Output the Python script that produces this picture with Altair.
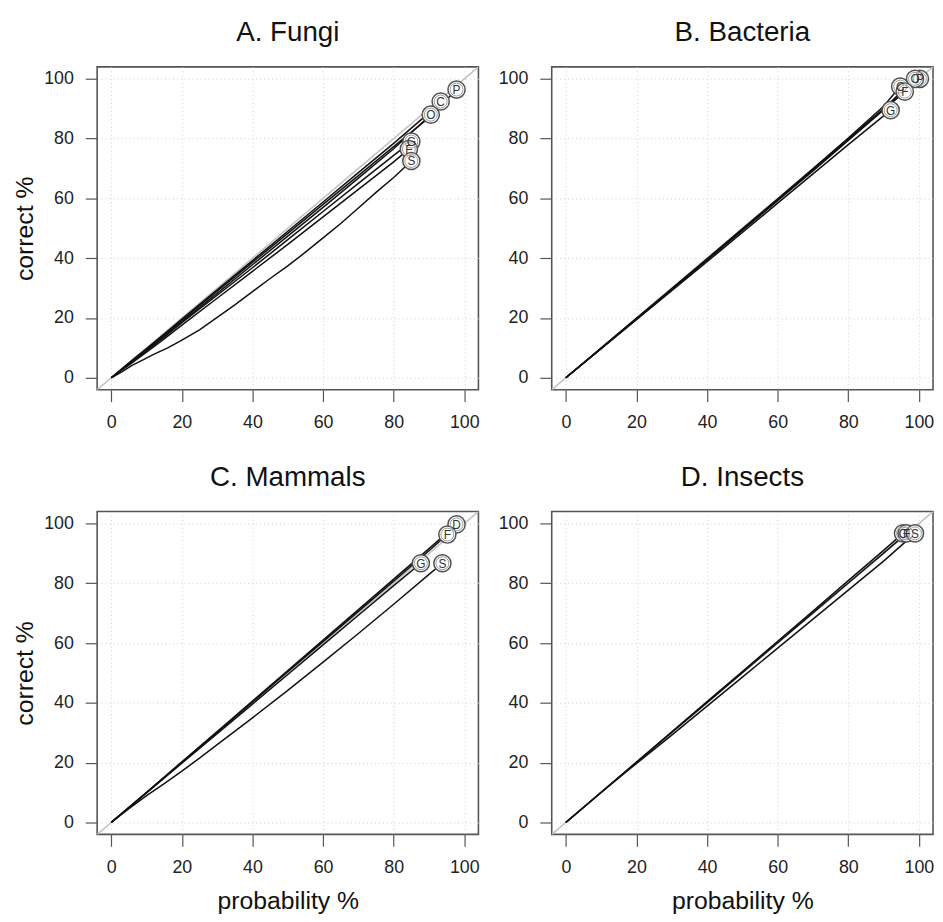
import altair as alt
import pandas as pd

TICKS = [0, 20, 40, 60, 80, 100]

# ---------------- data ----------------
fungi_names = ["P", "C", "O", "G", "F", "S"]
fungi_x = [
    [0, 2, 5, 10, 15, 20, 30, 40, 50, 60, 70, 80, 90, 97.8],
    [0, 2, 5, 10, 15, 20, 30, 40, 50, 60, 70, 80, 90, 93.3],
    [0, 2, 5, 10, 15, 20, 30, 40, 50, 60, 70, 80, 90.5],
    [0, 2, 5, 10, 15, 20, 30, 40, 50, 60, 70, 80, 85],
    [0, 2, 5, 10, 15, 20, 30, 40, 50, 60, 70, 80, 84.3],
    [0, 3, 6, 9, 12, 16, 20, 25, 30, 35, 40, 45, 50, 55, 60, 65, 70, 75, 80, 85],
]
fungi_y = [
    [0, 1.8, 4.7, 9.6, 14.5, 19.3, 29, 38.6, 48.3, 58, 67.6, 77.3, 87, 96.4],
    [0, 2, 5, 9.8, 14.6, 19.6, 29.4, 39.2, 49, 58.8, 68.6, 78.4, 88.6, 92.4],
    [0, 1.9, 4.6, 9.3, 14, 18.8, 28.2, 37.8, 47.4, 57, 66.8, 76.6, 88],
    [0, 1.8, 4.4, 9, 13.6, 18.4, 27.6, 36.8, 46.2, 55.6, 65, 74.4, 79],
    [0, 1.8, 4.2, 8.6, 13, 17.6, 26.6, 35.6, 44.6, 53.8, 63, 72.2, 76.5],
    [0, 2, 4.2, 6, 7.8, 10, 12.6, 16, 20.2, 24.4, 28.8, 33.2, 37.4, 42, 46.8, 51.6, 56.8, 62, 67, 72.5],
]

bact_names = ["P", "O", "C", "F", "G"]
bact_x = [
    [0, 10, 20, 30, 40, 50, 60, 70, 80, 90, 100.3],
    [0, 10, 20, 30, 40, 50, 60, 70, 80, 90, 98.9],
    [0, 10, 20, 30, 40, 50, 60, 70, 80, 90, 94.7],
    [0, 10, 20, 30, 40, 50, 60, 70, 80, 90, 96],
    [0, 10, 20, 30, 40, 50, 60, 70, 80, 90, 92],
]
bact_y = [
    [0, 9.9, 19.8, 29.7, 39.6, 49.6, 59.6, 69.6, 79.7, 89.8, 100],
    [0, 9.9, 19.9, 29.8, 39.8, 49.8, 59.8, 69.8, 79.9, 90, 100],
    [0, 9.8, 19.7, 29.6, 39.6, 49.6, 59.7, 69.9, 80.2, 90.8, 97.4],
    [0, 9.8, 19.6, 29.4, 39.3, 49.2, 59.2, 69.2, 79.4, 89.6, 95.7],
    [0, 9.7, 19.4, 29.1, 38.8, 48.6, 58.4, 68.2, 78, 87.6, 89.5],
]

mamm_names = ["D", "F", "G", "S"]
mamm_x = [
    [0, 10, 20, 30, 40, 50, 60, 70, 80, 90, 97.8],
    [0, 10, 20, 30, 40, 50, 60, 70, 80, 90, 95.2],
    [0, 10, 20, 30, 40, 50, 60, 70, 80, 87.7],
    [0, 5, 10, 15, 20, 25, 30, 40, 50, 60, 70, 80, 90, 93.8],
]
mamm_y = [
    [0, 10.1, 20.3, 30.4, 40.6, 50.8, 61, 71.2, 81.4, 91.6, 99.7],
    [0, 10, 20.1, 30.2, 40.3, 50.4, 60.5, 70.6, 80.7, 90.9, 96.3],
    [0, 9.9, 19.8, 29.7, 39.6, 49.5, 59.4, 69.3, 79.2, 86.7],
    [0, 4.6, 9, 13, 17.2, 21.5, 26, 35, 44.2, 53.6, 63.2, 73, 83, 86.7],
]

ins_names = ["G", "F", "S"]
ins_x = [
    [0, 10, 20, 30, 40, 50, 60, 70, 80, 90, 95.5],
    [0, 10, 20, 30, 40, 50, 60, 70, 80, 90, 96.5],
    [0, 10, 18, 30, 40, 50, 60, 70, 80, 90, 98.9],
]
ins_y = [
    [0, 10.1, 20.2, 30.3, 40.4, 50.5, 60.6, 70.7, 80.9, 91, 96.7],
    [0, 10.1, 20.1, 30.1, 40.1, 50.1, 60.1, 70.1, 80.1, 90.1, 96.7],
    [0, 10, 17.8, 29.2, 38.9, 48.6, 58.3, 68, 77.7, 87.4, 96.7],
]

W, H = 385, 326
FONT = "Liberation Sans"


def panel(title, names, xs, ys, x_title, y_title):
    rows = []
    ends = []
    for i, (n, xx, yy) in enumerate(zip(names, xs, ys)):
        for j, (a, b) in enumerate(zip(xx, yy)):
            rows.append({"s": n, "k": i, "o": j, "x": a, "y": b})
        ends.append({"s": n, "k": i, "x": xx[-1], "y": yy[-1]})
    df = pd.DataFrame(rows)
    de = pd.DataFrame(ends)
    xsc = alt.Scale(domain=[-4, 104], nice=False, zero=False)
    ysc = alt.Scale(domain=[-4, 104], nice=False, zero=False)
    xax = alt.Axis(values=TICKS, title=x_title if x_title else "")
    yax = alt.Axis(values=TICKS, title=y_title if y_title else "")

    diag = alt.Chart(pd.DataFrame({"x": [-4, 104], "y": [-4, 104]})).mark_line(
        color="#c4c4c4", strokeWidth=1.6, clip=True
    ).encode(x=alt.X("x:Q", scale=xsc, axis=xax), y=alt.Y("y:Q", scale=ysc, axis=yax))

    lines = alt.Chart(df).mark_line(color="#111111", strokeWidth=1.5, clip=True).encode(
        x=alt.X("x:Q", scale=xsc), y=alt.Y("y:Q", scale=ysc),
        detail="s:N", order="o:Q",
    )
    outer = alt.Chart(de).mark_point(
        shape="circle", filled=True, fill="white", stroke="#505050",
        strokeWidth=1.5, size=300, opacity=1,
    ).encode(x=alt.X("x:Q", scale=xsc), y=alt.Y("y:Q", scale=ysc), order="k:Q")
    inner = alt.Chart(de).mark_point(
        shape="circle", filled=False, stroke="#9a9a9a",
        strokeWidth=1, size=170, opacity=1,
    ).encode(x=alt.X("x:Q", scale=xsc), y=alt.Y("y:Q", scale=ysc))
    txt = alt.Chart(de).mark_text(
        font=FONT, fontSize=12, color="#333333", baseline="middle", align="center", dy=0.5
    ).encode(x=alt.X("x:Q", scale=xsc), y=alt.Y("y:Q", scale=ysc), text="s:N")

    return alt.layer(diag, lines, outer, inner, txt).properties(
        width=W, height=H,
        title=alt.TitleParams(title, fontSize=28, font=FONT, fontWeight="normal",
                              color="#111111", anchor="middle", offset=20),
    )


a = panel("A. Fungi", fungi_names, fungi_x, fungi_y, None, "correct %")
b = panel("B. Bacteria", bact_names, bact_x, bact_y, None, None)
c = panel("C. Mammals", mamm_names, mamm_x, mamm_y, "probability %", "correct %")
d = panel("D. Insects", ins_names, ins_x, ins_y, "probability %", None)

row1 = alt.hconcat(a, b, spacing=17)
row2 = alt.hconcat(c, d, spacing=17)

chart = alt.vconcat(row1, row2, spacing=31).properties(
    padding={"left": 4, "top": 6, "right": 0, "bottom": 0}
).configure_view(
    stroke="#555555", strokeWidth=1.6
).configure_axis(
    domain=False,
    ticks=True, tickSize=12, tickColor="#555555", tickWidth=1.2,
    labelFont=FONT, labelFontSize=18, labelColor="#222222", labelPadding=12,
    titleFont=FONT, titleFontSize=25, titleFontWeight="normal", titleColor="#111111",
    grid=True, gridColor="#d0d0d0", gridDash=[1, 3], gridWidth=1,
).configure_axisY(
    labelAngle=0, titlePadding=6
).configure_axisX(
    titlePadding=13
)

chart.save("out.html", embed_options={"renderer": "svg", "actions": False})
